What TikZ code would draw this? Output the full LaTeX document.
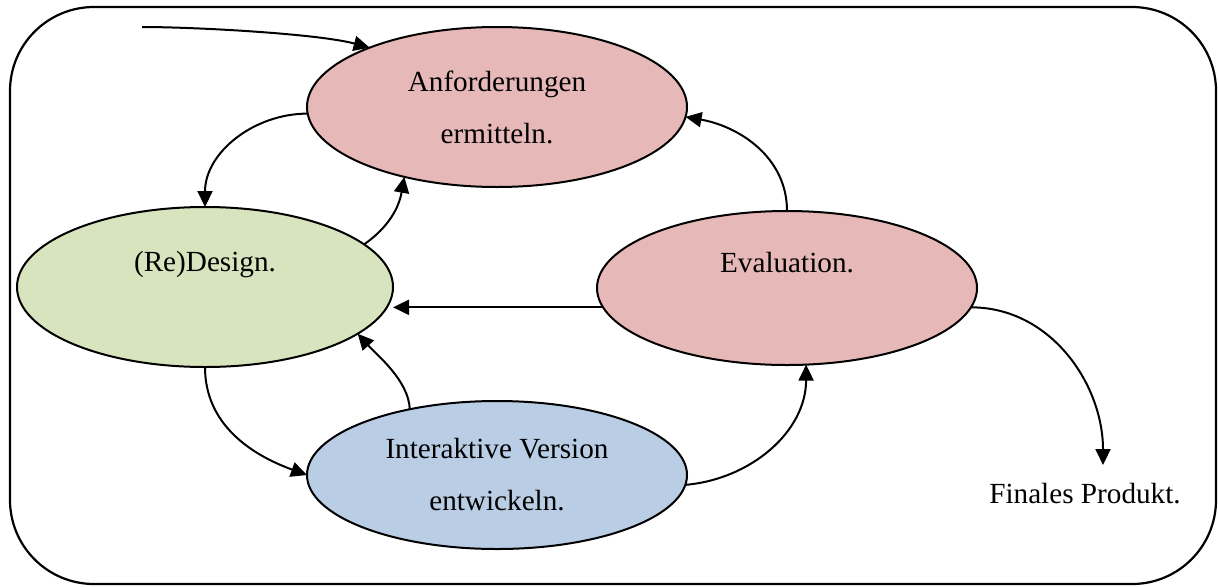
\documentclass[tikz,border=0pt]{standalone}
\usepackage{fontspec}
\setmainfont{Liberation Serif}
\usetikzlibrary{arrows.meta,shapes.geometric}
\definecolor{pinkc}{HTML}{E6B9B8}
\definecolor{greenc}{HTML}{D7E4BD}
\definecolor{bluec}{HTML}{B9CDE5}
\begin{document}
\begin{tikzpicture}[x=0.5pt,y=0.5pt,
  txt/.style={font=\fontsize{14.6}{26}\selectfont},
  bub/.style={ellipse,draw=black,line width=1pt,inner sep=0pt,outer sep=0pt,align=center,txt},
  arr/.style={-{Triangle[length=8pt,width=7.5pt]},line width=1pt},
  frame/.style={draw=black,line width=1.1pt,rounded corners=42pt}]
\useasboundingbox (0,0) rectangle (1218,586);
\draw[frame] (10,2) rectangle (1216,579);

\node[bub,fill=pinkc,minimum width=190pt,minimum height=80pt] (A) at (497,479) {Anforderungen\\ermitteln.};
\node[bub,fill=greenc,minimum width=188pt,minimum height=80pt] (D) at (205,299) {(Re)Design.\\\mbox{}};
\node[bub,fill=pinkc,minimum width=190pt,minimum height=77pt] (E) at (787,298) {Evaluation.\\\mbox{}};
\node[bub,fill=bluec,minimum width=190pt,minimum height=74pt] (I) at (497,111) {Interaktive Version\\entwickeln.};
\node[txt,inner sep=0pt,anchor=base] (F) at (1085,83) {Finales Produkt.};

\coordinate (start) at (142,559);
\coordinate (fin) at (1103,121);

\draw[arr] (start) to[out=0,in=165,looseness=0.6] (A.155);
\draw[arr] (A.182) to[out=180,in=90] (D.90);
\draw[arr] (D.15) to[out=35,in=-100] (A.217);
\draw[arr] (E.186) -- (E.186 -| D.east);
\draw[arr] (E.90) to[out=90,in=-10] (A.357);
\draw[arr] (D.270) to[out=-90,in=160] (I.180);
\draw[arr] (I.143) to[out=92,in=-48,looseness=0.8] (D.343);
\draw[arr] (I.357) to[out=5,in=-90] (E.284);
\draw[arr] (E.354) to[out=0,in=90] (fin);
\end{tikzpicture}
\end{document}
